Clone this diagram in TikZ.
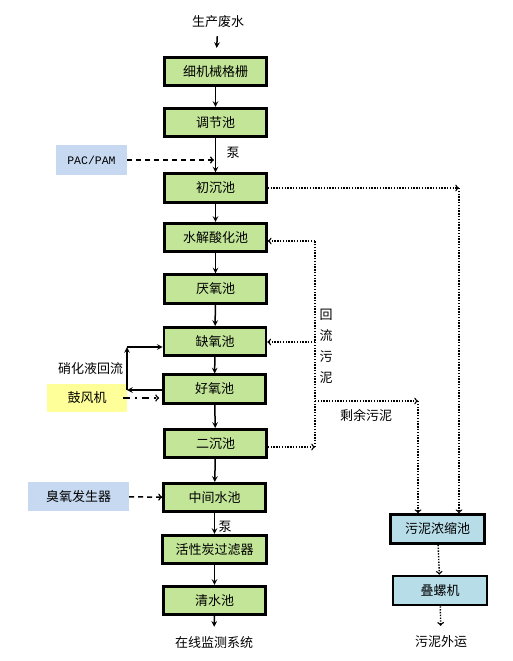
\documentclass[tikz,border=0pt]{standalone}
\usepackage{fontspec}
\setmainfont{Noto Sans CJK SC}
\newfontfamily\pacfont{Liberation Mono}
\usepackage{tikz}
\usetikzlibrary{arrows}
\usetikzlibrary{positioning}
\definecolor{poolgreen}{RGB}{194,229,152}
\definecolor{dosblue}{RGB}{198,217,241}
\definecolor{airyellow}{RGB}{255,255,153}
\definecolor{sludgeblue}{RGB}{183,222,232}

\begin{document}
\begin{tikzpicture}
		[x=1pt,y=-1pt,every node/.style={font=\fontsize{13}{15}\selectfont,inner sep=0pt},
		pool/.style={draw,line width=2.6pt,fill=poolgreen,minimum width=102pt,minimum height=28.5pt},
		sludge/.style={draw,line width=2.6pt,fill=sludgeblue,minimum width=94pt,minimum height=29pt},
		feed/.style={minimum width=71pt,minimum height=30pt},
		flow/.style={-stealth,line width=1.5pt},
		dashflow/.style={->,line width=1.5pt,dash pattern=on 5pt off 4pt},
		dotflow/.style={->,line width=1.4pt,dash pattern=on 1.4pt off 1.4pt}]
		\useasboundingbox (0,0) rectangle (512,661);
		% main line
		\node (src) at (218,22) {生产废水};
		\node[pool] (grid) at (215.5,71.5) {细机械格栅};
		\node[pool] (eq) at (215.5,122.5) {调节池};
		\node[pool] (prim) at (215.5,188) {初沉池};
		\node[pool] (hydro) at (215.5,237.5) {水解酸化池};
		\node[pool] (anaer) at (215.5,289) {厌氧池};
		\node[pool] (anox) at (215,341.5) {缺氧池};
		\node[pool] (oxic) at (214.5,389) {好氧池};
		\node[pool] (sec) at (215.5,443.5) {二沉池};
		\node[pool] (mid) at (214.5,497.5) {中间水池};
		\node[pool,minimum width=104pt] (carbon) at (214.5,549.5) {活性炭过滤器};
		\node[pool] (clear) at (214.5,600.5) {清水池};
		\node (monitor) at (214,643) {在线监测系统};
		% dosing and air
		\node[feed,fill=dosblue,font=\pacfont\fontsize{11.5}{13}\selectfont] (pac) at (91.5,160) {PAC/PAM};
		\node[feed,fill=airyellow,minimum width=80pt,minimum height=28pt] (blower) at (87,398) {鼓风机};
		\node[feed,fill=dosblue,minimum width=101pt,minimum height=29pt] (ozone) at (78.5,496.5) {臭氧发生器};
		% sludge line
		\node[sludge] (thick) at (437.5,529) {污泥浓缩池};
		\node[sludge] (press) at (440,590.5) {叠螺机};
		\node (out) at (441,642) {污泥外运};
		% labels
		\node (pump1) at (233,153) {泵};
		\node (pump2) at (225,527) {泵};
		\node (nitro) at (90.5,369) {硝化液回流};
		\node[align=center,font=\fontsize{13}{21}\selectfont] (ret) at (326,346.5) {回\\流\\污\\泥};
		\node (excess) at (366,415) {剩余污泥};
		% turning points
		\coordinate (pacin) at (214,160);
		\coordinate (nl1) at (127,390);
		\coordinate (nl2) at (127,347);
		\coordinate (rtop) at (315,241);
		\coordinate (rmid) at (315,342);
		\coordinate (rsplit) at (315,401);
		\coordinate (rbot) at (315,447);
		\coordinate (exc) at (418,401);
		\coordinate (pc) at (459,188);
		
		\draw[flow,shorten <=8pt,shorten >=8pt] (src) -- (grid);
		\foreach \from/\to in
		{grid/eq, eq/prim, prim/hydro, hydro/anaer, anaer/anox, anox/oxic,
			oxic/sec, sec/mid, mid/carbon, carbon/clear}
		\draw[flow] (\from) -- (\to);
		\draw[flow,shorten <=-1pt,shorten >=10pt] (clear) -- (monitor);
		\draw[dashflow] (pac) -- (pacin);
		\draw[dashflow] (ozone) -- (mid);
		\draw[->,line width=1.5pt,dash pattern=on 7pt off 5pt on 2pt off 5pt,shorten <=-4pt,shorten >=3pt] (blower.east) -- (blower.east -| oxic.west);
		\draw[flow] (oxic.west |- nl1) -- (nl1);
		\draw[flow] (nl1) -- (nl2);
		\draw[flow] (nl2) -- (anox.west |- nl2);
		% sludge return
		\draw[dotflow] (sec.east |- rbot) -- (rbot);
		\draw[dotflow,-] (rbot) -- (rtop);
		\draw[dotflow] (rtop) -- (hydro.east |- rtop);
		\draw[dotflow] (rmid) -- (anox.east |- rmid);
		\draw[dotflow] (rsplit) -- (exc);
		\draw[dotflow] (exc) -- (thick.north -| exc);
		\draw[dotflow] (prim) -- (pc);
		\draw[dotflow] (pc) -- (thick.north -| pc);
		\draw[dotflow] (thick) -- (press);
		\draw[dotflow,shorten >=10pt] (press) -- (out);
		\end{tikzpicture}
\end{document}
